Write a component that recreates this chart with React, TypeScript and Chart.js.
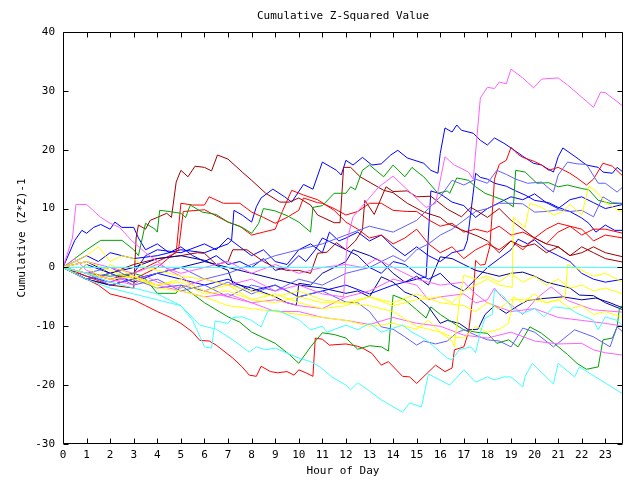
import React, { useEffect, useRef } from "react";
import { Chart, registerables } from "chart.js";

Chart.register(...registerables);

type P = [number, number];

const TITLE = "Cumulative Z-Squared Value";
const X_TITLE = "Hour of Day";
const Y_TITLE = "Cumulative (Z*Z)-1";
const X_MIN = 0;
const X_MAX = 23.75;
const Y_MIN = -30;
const Y_MAX = 40;
const X_TICKS = [0,1,2,3,4,5,6,7,8,9,10,11,12,13,14,15,16,17,18,19,20,21,22,23];
const Y_TICKS = [-30,-20,-10,0,10,20,30,40];

const RED = "#ff0000";
const DRED = "#a00000";
const BLUE = "#0000ff";
const LBLUE = "#6060ff";
const NAVY = "#0000a0";
const GREEN = "#00a000";
const MAG = "#ff60ff";
const CYAN = "#40ffff";
const YEL = "#ffff00";

const zeroLine: P[] = [[0,0],[23.75,0]];

const magTop: P[] = [[0,0],[0.5,1.5],[1,-0.5],[2,-2],[3,-3],[3.5,-1.5],[4,-2.5],[5,-3.5],[6,-2],[7,-3],[8,-2],[9,-4],[10,-3],[11,-4.5],[11.9,-5],[12.05,4.6],[12.3,8.6],[13.4,13.7],[14,15.5],[15.4,10.2],[15.8,10.9],[16.2,18.8],[16.6,17.4],[17.2,16.2],[17.4,15],[17.7,28.8],[18,30.6],[18.3,30.4],[18.5,31.5],[18.8,31.2],[19,33.7],[19.5,32.2],[19.96,30.5],[20.3,32],[21,32.2],[21.4,31],[22.5,27.2],[22.8,29.8],[23,29.7],[23.75,27.4]];
const magEarly: P[] = [[0,0],[0.4,5],[0.55,10.7],[1,10.7],[1.6,8.5],[2,7.5],[2.4,6.8],[2.9,4.6],[3.5,2.5],[4,1],[4.5,-0.5],[5,-1.5],[5.5,-3],[6,-4],[7,-5],[8,-6],[9,-7.5],[10,-7.5],[11,-8.5],[12,-9],[13,-9.7],[14,-8.5],[15,-9.5],[16,-10],[17,-11.5],[18,-12],[19,-11],[20,-12.5],[21,-13],[22,-12.9],[22.5,-14],[23,-14.5],[23.75,-14.9]];
const magMid: P[] = [[0,0],[1,-1],[2,-2.5],[3,-1.5],[4,-3],[5,-4],[6,-5],[7,-4.5],[8,-6],[9,-5.5],[10,-6.5],[11,-7],[12,-5],[13,-4],[14,-2],[15,-3],[15.5,-5.5],[16,-5],[17,-4.5],[17.5,-6],[18,-5.5],[18.3,-3.5],[18.6,-5],[19.5,-8],[20.1,-5.2],[20.7,-3.3],[21.4,-5.6],[22,-6.5],[22.5,-7.2],[23.75,-7.6]];
const magZero: P[] = [[0,0],[1,1],[2,0],[3,-1],[4,0.5],[5,-1],[6,0],[7,1],[8,-1],[9,0.5],[10,-1],[11,0],[12,0.5],[12.7,0],[13.3,1.5],[14,0],[15,-2],[16,-3],[17,-2.5],[17.5,-4.5],[18,-6],[19,-7.5],[20,-7],[21,-8.5],[22,-9],[23,-9.5],[23.75,-10]];

const dred1: P[] = [[0,0],[1,-2],[2,-3],[3,-3.5],[3.1,5],[3.2,7.2],[3.5,6.5],[3.7,8],[4,8.5],[4.4,9.2],[4.6,8.5],[4.8,14.5],[5,16.5],[5.3,15.4],[5.6,17.2],[6,17],[6.3,16.4],[6.55,19.1],[7,18.4],[7.6,16.2],[8,14.8],[8.6,12.6],[9.2,11.1],[9.6,11.1],[10,11.8],[10.5,10.6],[10.8,8.9],[11.5,7.6],[11.75,7.6],[11.9,17],[12.2,17],[12.6,15.4],[13.6,13.1],[14,12.7],[14.6,10.9],[15.3,9.4],[16,8.5],[16.3,7.5],[16.9,6.4],[17.6,5.3],[18,4.5],[18.5,2.5],[19,4.5],[19.5,3.5],[20,4],[20.5,2.5],[21,3.5],[21.5,2],[22,3.5],[22.5,2.5],[23,1.5],[23.75,0.9]];
const dred2: P[] = [[0,0],[1,-2],[2,-1],[3,0.5],[4,1.5],[5,2],[5.7,2.5],[6,2.4],[6.5,0.5],[7,1],[7.2,3],[7.8,3],[8.5,1],[9,0],[9.5,-0.5],[10,-0.5],[10.5,-1],[10.8,2.4],[11.2,2.6],[11.6,4.2],[12,3],[12.4,4.5],[12.7,6.4],[12.8,11.4],[13.2,9],[13.7,13.7],[14,12.9],[14.6,13],[15,12],[15.6,12.1],[16.3,9.9],[16.9,8.6],[17.3,10.2],[17.6,9.5],[18,8.5],[18.5,10],[19,8],[19.5,6.5],[20,5],[20.5,4],[21,3.5],[21.5,2],[22,2.5],[22.5,3.5],[23,2.5],[23.75,1.8]];

const redLow: P[] = [[0,0],[0.5,-1],[1,-2],[1.5,-3],[2,-4.5],[2.5,-5],[3,-5.5],[3.5,-6.5],[4,-7.5],[4.5,-8.4],[5,-9.5],[5.5,-11],[5.8,-12.4],[6.2,-12.5],[6.5,-13.2],[7.2,-15.4],[7.6,-16.9],[7.9,-18.3],[8.2,-18.5],[8.4,-16.8],[8.8,-17.7],[9.1,-17.9],[9.5,-17.7],[9.8,-18.3],[10,-17.4],[10.3,-17.9],[10.6,-18.5],[10.7,-12],[11,-12.2],[11.3,-13.2],[12,-13],[12.5,-13.4],[12.7,-13.7],[13.1,-14.6],[13.5,-16.6],[13.8,-16],[14.4,-18.5],[14.7,-18.6],[15,-19.7],[15.8,-16.6],[16.2,-17.7],[16.5,-17.1],[16.6,-14],[17,-13.5],[17.2,-11],[17.4,-4.4],[17.5,1.2],[17.7,0.4],[17.9,0.5],[18.1,3.5],[18.2,9],[18.3,15],[18.5,17.5],[18.8,18.2],[19,20.4],[19.3,19.2],[19.5,18.7],[20,18],[20.3,17.4],[20.6,16.5],[21,17],[21.5,16],[21.8,15.2],[22.2,14],[22.5,15],[22.9,17.7],[23.3,17.2],[23.75,15.5]];
const red2: P[] = [[0,0],[1,-1],[2,-2],[3,-1],[4,1],[4.8,2.5],[5,10.9],[5.5,10.6],[6,10.6],[6.2,12],[6.8,10.9],[7.5,10.9],[8,9.4],[8.5,8.5],[9,7.5],[9.5,8.5],[10,9.7],[10.2,11.8],[10.8,11],[11,10.9],[11.5,10],[12,8.9],[12.5,9.5],[13,10.9],[13.5,10.9],[14,9.7],[14.6,9.5],[15,9.5],[15.5,8.1],[16,7],[16.5,7.5],[17,6],[17.5,6.5],[18,6],[18.5,7],[19,5.5],[19.5,6],[20,5],[20.5,6.5],[21,7.5],[21.5,7],[22,5.5],[22.5,6.5],[23,6.5],[23.75,5.8]];
const red3: P[] = [[0,0],[1,-1.5],[2,-3],[3,-2],[4,0],[4.9,3],[5.1,9.5],[6,9.8],[7,7.7],[7.5,7],[8,5.5],[8.5,6],[9,6.5],[9.3,9.5],[9.7,13.1],[10.2,12.3],[10.8,11.5],[11.5,9.7],[12,7.7],[12.5,6.5],[13,5],[13.5,5.5],[14,4],[14.5,5],[15,6.5],[15.5,4],[16,2.5],[16.5,3.5],[17,1.5],[17.5,3],[18,4],[18.5,3],[19,4.5],[19.5,3],[20,5],[20.5,4],[21,6],[21.5,7],[22,6.5],[22.5,4.5],[23,5.5],[23.75,5]];

const blueTop: P[] = [[0,0],[1,2],[1.5,1],[2,2.5],[3,1.5],[4,2],[5,3],[6,2.5],[7,4],[7.15,4.6],[7.25,9.7],[7.6,8.9],[8,7.7],[8.2,10.3],[8.4,11.8],[8.9,13.3],[9.4,12],[9.7,11.1],[10.2,14.1],[10.6,13.3],[11,17.9],[11.6,16.5],[11.8,15.7],[12,18.2],[12.3,17.4],[12.7,18.7],[13.1,17.4],[13.5,17.6],[13.9,19.1],[14.2,19.9],[14.6,18.6],[15.3,17.7],[15.6,16.5],[15.9,16],[16,19.4],[16.2,23.7],[16.5,23],[16.7,24.2],[16.9,23.3],[17.4,22.8],[17.7,21.6],[18,20.8],[18.3,22],[18.7,21.1],[19,20.3],[19.5,18.9],[19.95,17.7],[20.3,17.4],[20.5,16.9],[20.8,16.2],[21,18.8],[21.2,20.3],[21.8,18.6],[22.2,17.4],[22.7,17],[22.9,16.2],[23.3,16],[23.5,17],[23.75,16.2]];
const blueB: P[] = [[0,0],[0.5,-1],[1,0.5],[2,-1],[3,-2.5],[4,-1],[5,-2],[6,-3],[7,-2],[8,-4],[9,-3],[10,-5],[11,-4],[12,-3],[13,-4.5],[14,-3],[15,-2],[15.4,-1.6],[15.6,13],[16,12.5],[16.5,11.1],[17,10.5],[17.2,9.7],[17.5,8.5],[18,10],[18.5,11],[19,12],[19.5,11.5],[20,12.5],[20.5,11],[21,10],[21.5,11.5],[22,12],[22.5,11],[23,10],[23.75,10.7]];
const blueC: P[] = [[0,0],[0.5,4.6],[0.8,6.3],[1,5.8],[1.3,6.8],[1.6,7.3],[2,6.5],[2.2,7.7],[2.5,6.8],[3,6.8],[3.2,5],[3.5,3],[4,4],[4.5,2.5],[5,3.5],[5.5,2],[6,1],[6.5,2],[7,0.5],[7.5,1],[8,0],[8.5,1.5],[9,-0.5],[9.5,0],[10,2],[10.3,1],[10.7,3],[11,5],[11.5,4],[12,3],[12.5,2],[13,0],[13.5,-1],[14,1],[14.5,0.5],[15,-1],[15.5,-2],[16,-1],[16.5,-3],[17,-4],[17.5,-2],[18,0],[18.5,1.5],[19,3],[19.3,4.8],[19.7,4],[20,4.7],[20.5,3],[21,2],[21.5,1],[22,-1],[22.5,-2],[23,-2.5],[23.75,-2]];
const blueD: P[] = [[0,0],[1,-1.5],[2,-2.5],[3,-1],[3.5,2],[4,3],[5,2.5],[6,4],[6.5,3],[7,5],[7.5,3.5],[8,2],[8.5,3],[9,1],[9.5,0.5],[10,3],[10.5,4],[11,2.5],[11.3,6],[11.7,4.5],[12,5],[12.5,6],[13,4.5],[13.5,5.5],[14,3.5],[14.5,2],[15,3.5],[15.5,2],[16,1],[16.5,2.5],[17,3],[17.15,4.6],[17.5,16],[17.7,15.3],[18,15],[18.3,14.3],[18.8,13.8],[19.2,13],[19.6,12.3],[20,11.4],[20.6,11],[21,10.2],[21.5,9.5],[22,8.4],[22.3,7.5],[22.6,6],[23,7.2],[23.4,6.3],[23.75,6.3]];

const lblue1: P[] = [[0,0],[1,-1],[2,0],[3,-2],[4,-1],[5,0],[6,-2],[7,-1],[8,0.5],[9,2],[10,3],[11,4],[12,5.5],[13,7],[14,6],[15,8],[15.5,10],[16,12],[16.5,14.8],[17,14],[17.5,15],[18,14.3],[18.4,16.5],[18.8,15.8],[19.2,15],[19.7,14.3],[20.3,14.5],[20.8,12.8],[21,15.7],[21.4,17.9],[21.8,17.6],[22.2,17.5],[22.7,14.3],[23,14.3],[23.5,12.8],[23.75,13.7]];
const lblue2: P[] = [[0,0],[1,-2],[2,-1],[3,-3],[4,-2],[5,-4],[6,-3],[7,-5],[8,-3],[9,-4],[10,-2],[11,-3],[12,-1],[13,0],[14,2],[14.5,1],[15,3],[15.5,4],[16,5.5],[16.5,6.5],[17,8],[17.5,9.5],[18,10],[18.5,10.9],[19,10.9],[19.5,10.8],[20,9.4],[20.5,9.5],[21,9.8],[21.5,9.5],[22,9.7],[22.5,8.6],[22.9,12],[23.3,11],[23.75,10.9]];
const lblue3: P[] = [[0,0],[1,-1],[2,-3],[3,-2],[4,-3.5],[5,-3],[6,-4],[7,-2.5],[8,-4.5],[9,-3],[10,-5],[11,-4],[12,-5.9],[12.5,-6],[13,-7.5],[13.5,-10.1],[14,-10.5],[14.5,-11.8],[15,-13.2],[15.3,-12.5],[15.8,-13],[16.3,-12.5],[16.7,-11.1],[17,-10.6],[17.5,-11.5],[18,-12.3],[18.5,-12.5],[19,-13.5],[19.5,-10.3],[20,-11],[20.8,-13.5],[21.7,-10.6],[22.5,-11.8],[23.2,-13.5],[23.5,-10.1],[23.75,-11]];

const navy1: P[] = [[0,0],[1,1],[2,-1],[3,0],[4,1.5],[5,2],[6,1.2],[7,-0.5],[7.2,-2.7],[8,-3.5],[9,-5],[9.5,-6],[9.9,-6.4],[10,-2.7],[10.5,-3],[11,-1],[12,1],[12.3,3],[13,2],[13.5,1],[14,-1],[14.5,-2.5],[15,-1.5],[15.5,-3],[16,1.8],[16.5,1.5],[17,0.5],[17.5,-0.5],[18,-1],[18.5,-1.5],[19,-1],[19.5,-0.8],[20,-1.5],[20.5,-2.5],[21,-3],[21.5,-3.5],[21.9,-4.7],[22.5,-4.8],[23,-6],[23.75,-7.2]];
const navy2: P[] = [[0,0],[1,-2],[2,-3],[3,-2],[4,-1],[5,0],[6,1],[7,0],[8,-1],[9,-2],[10,-3],[11,-3.5],[12,-4.4],[12.5,-4],[13,-5],[13.5,-1.6],[14,-2.5],[14.5,-4.2],[15,-5],[15.5,-6.7],[16,-9.5],[16.3,-9],[16.8,-9.5],[17.2,-10.6],[17.6,-10.5],[17.9,-8],[18.3,-6.5],[18.8,-7.8],[19.3,-6.5],[19.7,-5.6],[20.3,-5.3],[21.2,-5],[22,-5.5],[22.6,-5.2],[23.2,-6],[23.75,-6.9]];

const green1: P[] = [[0,0],[0.5,1.5],[1,3],[1.6,4.6],[2.5,4.6],[3,3],[3.2,2],[3.5,7.5],[3.9,6.5],[4,6],[4.1,9.7],[4.5,9.5],[5,9.2],[5.2,8.5],[5.4,10.6],[5.9,9.4],[6.5,9],[7,7.7],[7.6,6.8],[8,5.8],[8.3,7.5],[8.5,10],[9,9.6],[9.5,8.8],[10,7.7],[10.5,6],[10.6,10.2],[11,10.5],[11.5,12.6],[12,12.6],[12.2,13.7],[12.4,13.2],[12.7,16.5],[13,17.4],[13.6,15.4],[14,17.4],[14.5,15.4],[14.8,17],[15.1,16],[15.3,15.4],[15.9,12.6],[16.3,13],[16.4,12.6],[16.7,15.2],[17.2,14.8],[17.5,13.7],[17.9,12.6],[18.3,12],[18.7,11.4],[19.1,10.3],[19.2,16.5],[19.6,16.2],[20.1,14.3],[20.6,14.4],[21,13.7],[21.4,14],[22,13.4],[22.3,13.2],[22.7,11.4],[23.2,10.9],[23.75,10.8]];
const green2: P[] = [[0,0],[1,-1],[2,-1.5],[3,-1],[3.4,-1.5],[4,-4.4],[4.8,-4.4],[5,-3],[5.5,-4.5],[6,-6],[7,-8.4],[7.5,-9.3],[8,-11],[9,-12.9],[9.6,-14.8],[10,-16.3],[10.5,-13.5],[11,-11.1],[11.5,-11.4],[12,-12],[12.5,-13.9],[13,-13.3],[13.5,-13.5],[13.8,-14.2],[14,-4.7],[14.5,-5.5],[15,-7.2],[15.4,-8.6],[15.6,-6.7],[16,-8],[16.5,-9.3],[17,-10.6],[17.5,-11],[18,-11.2],[18.4,-12.9],[18.9,-12.3],[19.3,-13.5],[19.8,-10.1],[20.3,-11.2],[20.8,-12.8],[21.4,-14.8],[21.8,-16.3],[22.2,-17.3],[22.7,-16.9],[22.9,-12.3],[23.3,-12],[23.5,-10.1],[23.6,-6.9],[23.75,-6.4]];

const yel1: P[] = [[0,0],[1,2],[1.5,3.5],[2,1],[2.5,2],[3,1.5],[3.5,0],[4,-0.5],[5,-1.5],[6,-2],[7,-3],[8,-4],[9,-5],[10,-4],[11,-5.5],[12,-6],[13,-5],[14,-6.5],[15,-5.5],[16,-5],[16.5,-6],[17,-4],[17.5,-3],[18,-2],[18.5,-3],[19.05,-3.4],[19.1,8.5],[19.6,6.8],[19.8,10.9],[20.3,10.2],[20.8,8.9],[21.2,9.5],[21.5,10.7],[22,8.9],[22.3,13.8],[22.6,13],[23,11.1],[23.5,9.8],[23.75,9.4]];
const yel2: P[] = [[0,0],[0.5,-1],[1,0.5],[1.5,-1.5],[2,0.5],[3,-1.5],[4,-3],[5,-2],[6,-4],[7,-3],[8,-5.5],[9,-4.5],[10,-6],[11,-7],[12,-6.5],[13,-5],[14,-6],[15,-4.5],[16,-6],[17,-6.5],[17.5,-7.5],[18,-6],[18.5,-7],[19,-5.5],[20,-5.5],[20.5,-6],[21,-5.5],[21.3,-5],[21.4,0.5],[22,-0.5],[22.5,-1.5],[23,-1],[23.75,-2.5]];
const yel3: P[] = [[0,0],[1,-1],[2,-2],[3,-1.5],[4,-3.5],[5,-4],[6,-5],[7,-6.5],[8,-7],[9,-7.5],[10,-8],[11,-8.5],[12,-9],[13,-10],[14,-9.5],[15,-10.5],[15.5,-9],[16,-11],[16.5,-12.5],[16.6,-13.5],[16.8,-6],[17,-1.3],[17.5,-2],[18,-1.5],[18.5,-2.5],[19,-1],[19.5,-2.5],[20,-1.5],[20.5,-3],[21,-2],[21.5,-3.5],[22,-3],[22.5,-4],[23,-3.5],[23.75,-4.5]];
const yel4: P[] = [[0,0],[1,1],[2,-0.5],[3,-2],[4,-3],[5,-2.5],[6,-4.5],[7,-4],[8,-5.5],[9,-6],[10,-5],[11,-6],[12,-6],[13,-6.5],[14,-7.5],[15,-10],[15.5,-10.5],[16,-11],[16.5,-11.8],[17,-12],[17.5,-10],[18,-11],[18.5,-10.5],[18.9,-9.5],[19.1,-5],[19.5,-6],[20,-4.5],[20.5,-6],[21,-5.5],[21.5,-7],[22,-6.5],[22.5,-8],[23,-7.5],[23.75,-8.5]];

const cyanLow: P[] = [[0,0],[1,-2],[2,-3.5],[3,-4.5],[4,-5.5],[5,-6.5],[5.8,-9.8],[6.5,-10.5],[7.2,-12.3],[7.9,-14.4],[8.2,-13.5],[8.6,-14],[9,-13.7],[10,-15.4],[10.5,-16],[10.9,-16.9],[11.4,-18.6],[12,-20],[12.2,-20.8],[12.5,-19.6],[13,-21],[13.5,-22.5],[14.4,-24.6],[14.7,-23],[15.2,-23.7],[15.5,-18.1],[16.4,-20],[17,-17.4],[17.5,-19.5],[18,-18.6],[18.3,-19.1],[18.7,-18.6],[19,-18.6],[19.5,-20.3],[19.6,-18.5],[19.9,-16.3],[20.8,-19.8],[21,-16.3],[21.7,-18.6],[21.9,-16.9],[23.75,-21.5]];
const cyanMid: P[] = [[0,0],[1,-1],[2,-2.5],[3,-3.5],[4,-4.5],[5,-6.5],[5.5,-9],[6,-13.5],[6.3,-13.7],[6.45,-9.1],[7,-9.5],[7.2,-8.5],[7.6,-8.4],[8,-9],[8.4,-10.1],[8.7,-7.3],[9.1,-7.3],[10,-8.9],[10.5,-10.6],[11,-10],[11.2,-11],[12,-9.8],[12.5,-10.6],[13,-9.5],[13.5,-11],[14.4,-9.8],[14.8,-11],[15.4,-12.3],[16.3,-15.4],[16.5,-15.7],[16.8,-14],[17.3,-13.5],[17.5,-14.5],[17.7,-11],[17.9,-8.6],[18.2,-8],[18.3,-3.8],[18.7,-5],[19.1,-7.2],[19.5,-7.8],[20,-7],[20.4,-8.4],[20.8,-6.7],[21.5,-7],[21.8,-7.8],[22.5,-9],[22.7,-10.6],[23,-8.4],[23.5,-9],[23.75,-10]];

const SERIES: { name: string; color: string; data: P[] }[] = [
  { name: "zero", color: CYAN, data: zeroLine },
  { name: "cyanLow", color: CYAN, data: cyanLow },
  { name: "cyanMid", color: CYAN, data: cyanMid },
  { name: "yel1", color: YEL, data: yel1 },
  { name: "yel2", color: YEL, data: yel2 },
  { name: "yel3", color: YEL, data: yel3 },
  { name: "yel4", color: YEL, data: yel4 },
  { name: "magEarly", color: MAG, data: magEarly },
  { name: "magMid", color: MAG, data: magMid },
  { name: "magZero", color: MAG, data: magZero },
  { name: "magTop", color: MAG, data: magTop },
  { name: "lblue1", color: LBLUE, data: lblue1 },
  { name: "lblue2", color: LBLUE, data: lblue2 },
  { name: "lblue3", color: LBLUE, data: lblue3 },
  { name: "green1", color: GREEN, data: green1 },
  { name: "green2", color: GREEN, data: green2 },
  { name: "navy1", color: NAVY, data: navy1 },
  { name: "navy2", color: NAVY, data: navy2 },
  { name: "dred1", color: DRED, data: dred1 },
  { name: "dred2", color: DRED, data: dred2 },
  { name: "red2", color: RED, data: red2 },
  { name: "red3", color: RED, data: red3 },
  { name: "redLow", color: RED, data: redLow },
  { name: "blueC", color: BLUE, data: blueC },
  { name: "blueD", color: BLUE, data: blueD },
  { name: "blueB", color: BLUE, data: blueB },
  { name: "blueTop", color: BLUE, data: blueTop },
];

const FONT_FAMILY = "'DejaVu Sans Mono', monospace";
const FONT_SIZE = 11;

const framePlugin = {
  id: "frameAndLabels",
  afterDatasetsDraw(chart: any) {
    const { ctx, chartArea, scales } = chart;
    const { left, right, top, bottom } = chartArea;
    const L = Math.round(left) + 0.5;
    const R = Math.round(right) - 0.5;
    const T = Math.round(top) + 0.5;
    const B = Math.round(bottom) - 0.5;
    ctx.save();
    ctx.strokeStyle = "#000";
    ctx.lineWidth = 1;
    ctx.beginPath();
    ctx.rect(L, T, R - L, B - T);
    for (const v of X_TICKS) {
      const x = Math.round(scales.x.getPixelForValue(v)) + 0.5;
      ctx.moveTo(x, B); ctx.lineTo(x, B - 5);
      ctx.moveTo(x, T); ctx.lineTo(x, T + 5);
    }
    for (const v of Y_TICKS) {
      const y = Math.round(scales.y.getPixelForValue(v)) + 0.5;
      ctx.moveTo(L, y); ctx.lineTo(L + 5, y);
      ctx.moveTo(R, y); ctx.lineTo(R - 5, y);
    }
    ctx.stroke();
    ctx.fillStyle = "#000";
    ctx.font = `${FONT_SIZE}px ${FONT_FAMILY}`;
    ctx.textAlign = "center";
    ctx.textBaseline = "middle";
    const cx = (left + right) / 2;
    ctx.fillText(TITLE, cx, 16);
    ctx.fillText(X_TITLE, cx, 471);
    ctx.translate(22, (top + bottom) / 2);
    ctx.rotate(-Math.PI / 2);
    ctx.fillText(Y_TITLE, 0, 0);
    ctx.restore();
  },
};

export default function App() {
  const ref = useRef<HTMLCanvasElement | null>(null);
  useEffect(() => {
    if (!ref.current) return;
    const chart = new Chart(ref.current, {
      type: "line",
      data: {
        datasets: SERIES.map((s) => ({
          label: s.name,
          data: s.data.map(([x, y]) => ({ x, y })),
          borderColor: s.color,
          backgroundColor: s.color,
          borderWidth: 1,
          pointRadius: 0,
          tension: 0,
          fill: false,
        })),
      },
      options: {
        responsive: false,
        animation: false,
        events: [],
        layout: { padding: { left: 0, right: 17, top: 32, bottom: 0 } },
        plugins: { legend: { display: false }, tooltip: { enabled: false }, title: { display: false } },
        scales: {
          x: {
            type: "linear",
            min: X_MIN,
            max: X_MAX,
            grid: { display: false, drawTicks: false },
            border: { display: false },
            afterBuildTicks: (scale: any) => { scale.ticks = X_TICKS.map((v) => ({ value: v })); },
            afterFit: (scale: any) => { scale.height = 36; },
            ticks: {
              autoSkip: false,
              maxRotation: 0,
              padding: 5,
              color: "#000",
              font: { family: FONT_FAMILY, size: FONT_SIZE },
              callback: (v: any) => String(v),
            },
          },
          y: {
            type: "linear",
            min: Y_MIN,
            max: Y_MAX,
            grid: { display: false, drawTicks: false },
            border: { display: false },
            afterBuildTicks: (scale: any) => { scale.ticks = Y_TICKS.map((v) => ({ value: v })); },
            afterFit: (scale: any) => { scale.width = 63; },
            ticks: {
              padding: 8,
              color: "#000",
              font: { family: FONT_FAMILY, size: FONT_SIZE },
              callback: (v: any) => String(v),
            },
          },
        },
      },
      plugins: [framePlugin],
    } as any);
    return () => chart.destroy();
  }, []);
  return (
    <div style={{ position: "absolute", left: 0, top: 0, width: 640, height: 480, background: "#fff" }}>
      <canvas ref={ref} width={640} height={480} style={{ display: "block", width: 640, height: 480 }} />
    </div>
  );
}
